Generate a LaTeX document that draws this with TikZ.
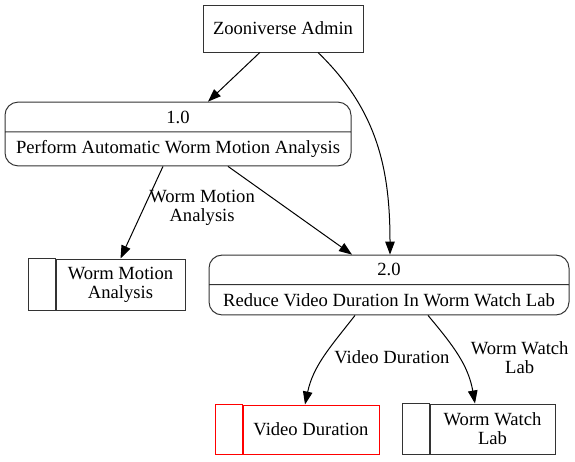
\documentclass[tikz,border=0pt]{standalone}
\usepackage{fontspec}
\setmainfont{Liberation Serif}
\usetikzlibrary{arrows.meta,shapes.multipart}
\definecolor{ink}{HTML}{000000}
\definecolor{edge}{HTML}{333333}
\definecolor{alert}{HTML}{FF0000}

\begin{document}
\begin{tikzpicture}[x=1pt,y=-1pt,font=\fontsize{18.6}{19}\selectfont,text=ink,
    flow/.style={-{Triangle[length=13pt,width=9.5pt]},line width=1pt,draw=ink},
    entity/.style={draw=edge,line width=1pt,minimum width=160pt,minimum height=47pt},
    process/.style={draw=edge,line width=1pt,rectangle split,rectangle split parts=2,
      rounded corners=13pt,inner ysep=8pt},
    store/.style={draw=edge,line width=1pt,minimum height=50pt,align=center,inner sep=0pt},
    flowlabel/.style={align=center,inner sep=2pt}]
  \useasboundingbox[fill=white] (0,0) rectangle (575,461);

  % external entity
  \node[entity] (admin) at (283,28.5) {Zooniverse Admin};

  % processes
  \node[process,minimum width=346pt] (p1) at (178,134)
    {1.0 \nodepart{two} Perform Automatic Worm Motion Analysis};
  \node[process,minimum width=360pt] (p2) at (389,285)
    {2.0 \nodepart{two} Reduce Video Duration In Worm Watch Lab};

  % data stores
  \node[store,minimum width=129pt,minimum height=51pt] (wma) at (120.5,284.5) {Worm Motion\\Analysis};
  \node[store,minimum width=136pt,minimum height=49pt,draw=alert] (vd) at (311,429.5) {Video Duration};
  \node[store,minimum width=125pt] (wwl) at (492.5,429) {Worm Watch\\Lab};
  \foreach \s/\c in {wma/edge,vd/alert,wwl/edge}
    \draw[draw=\c,line width=1pt] ([xshift=-27pt]\s.north west) rectangle (\s.south west);

  % flows
  \draw[flow] (admin.-134) -- ([xshift=30pt]p1.north);
  \draw[flow] ([xshift=35pt]admin.south) to[out=-44,in=90] ([xshift=1pt]p2.north);
  \draw[flow] ([xshift=-15pt]p1.south) -- node[flowlabel,pos=0.45,anchor=west,xshift=3pt] (lwma)
    {Worm Motion\\Analysis} (wma.north);
  \draw[flow] ([xshift=50pt]p1.south) -- ([xshift=-37pt]p2.north);
  \draw[flow] ([xshift=-34pt]p2.south) to[out=-128,in=78]
    node[flowlabel,pos=0.5,anchor=west,xshift=8pt] (lvd) {Video Duration} ([xshift=-6pt]vd.north);
  \draw[flow] ([xshift=39pt]p2.south) to[out=-50,in=100]
    node[flowlabel,pos=0.52,anchor=west,xshift=9pt] (lwwl) {Worm Watch\\Lab} ([xshift=-17.5pt]wwl.north);
\end{tikzpicture}
\end{document}
